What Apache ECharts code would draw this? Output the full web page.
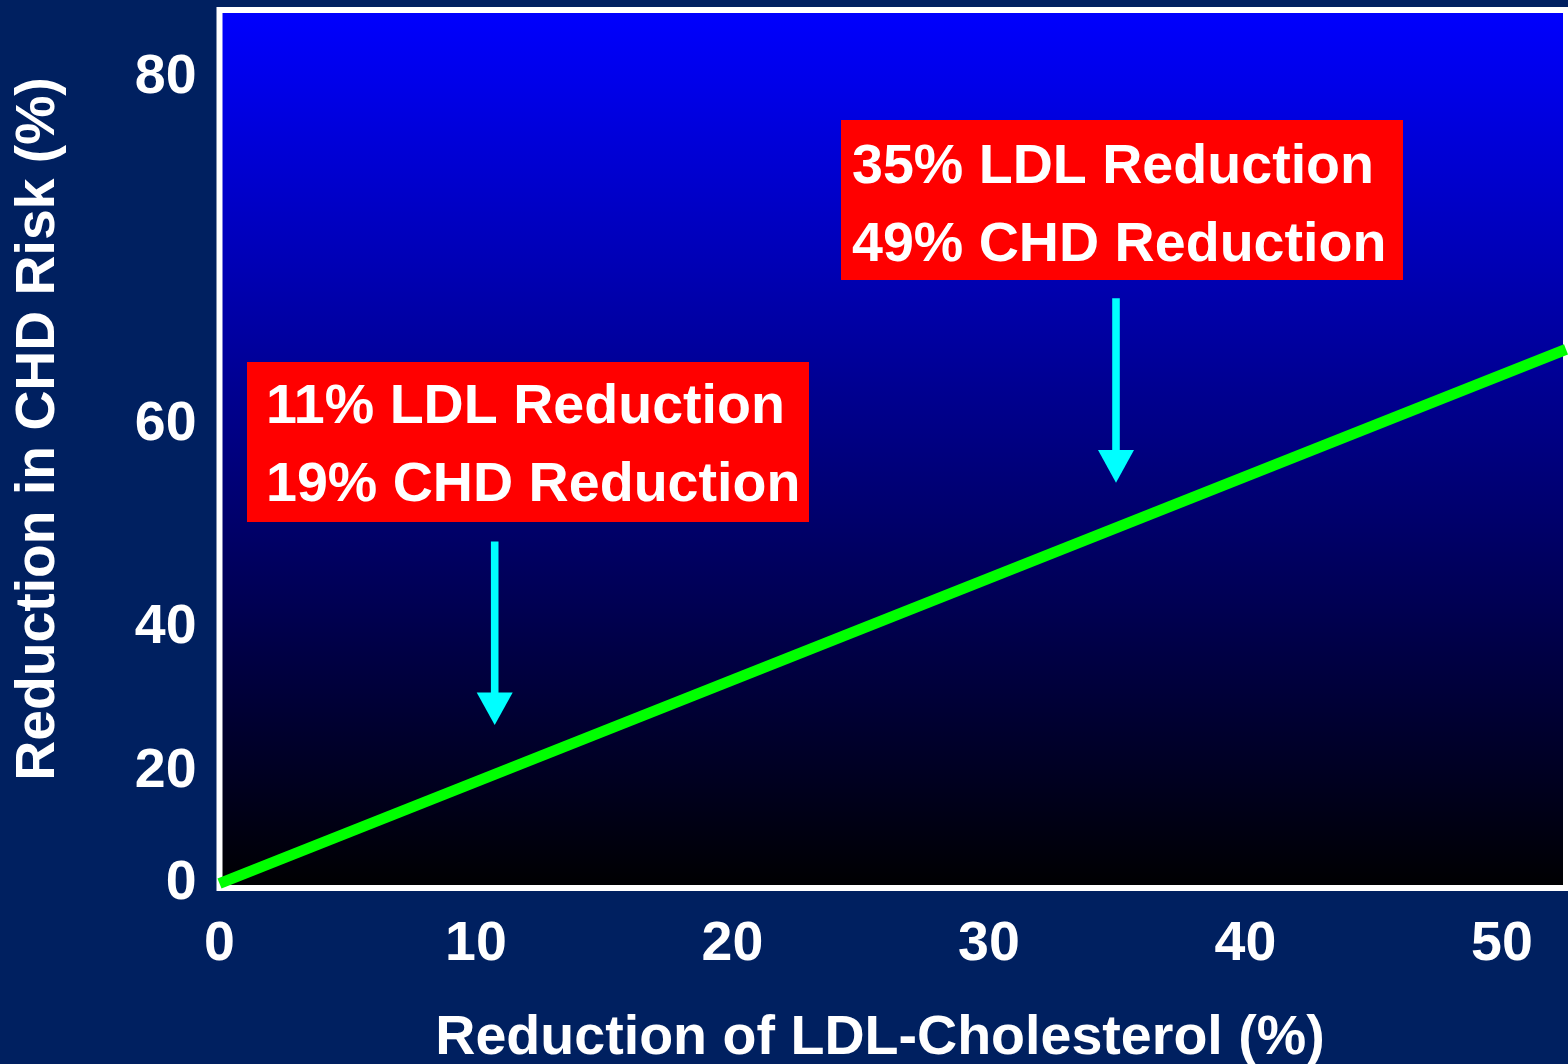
<!DOCTYPE html>
<html><head><meta charset="utf-8">
<script src="https://cdn.jsdelivr.net/npm/echarts@6/dist/echarts.min.js"></script>
<style>html,body{margin:0;padding:0;background:#002060;}#c{width:1568px;height:1064px;}</style>
</head><body><div id="c"></div>
<script>
// Data
const ldlReduction = [0, 52.5];          // % reduction of LDL-cholesterol
const chdReduction = [0, 65.6];          // % reduction in CHD risk
const xTickValues = [0, 10, 20, 30, 40, 50];
const yTickValues = [0, 20, 40, 60, 80];
const boxTextA = ['11% LDL Reduction', '19% CHD Reduction'];
const boxTextB = ['35% LDL Reduction', '49% CHD Reduction'];
const yTitle = 'Reduction in CHD Risk (%)';
const xTitle = 'Reduction of LDL-Cholesterol (%)';

// y axis is proportional to -ln(remaining risk): plotted on a log axis of remaining risk (100 - reduction)
const yTopReduction = 82.54, yBottomReduction = -0.903;
const FONT = "'Liberation Sans', Arial, Helvetica, sans-serif";

const chart = echarts.init(document.getElementById('c'), null, {renderer: 'canvas'});
const seriesData = ldlReduction.map((x, i) => [x, 100 - chdReduction[i]]);

function textStyle(size) { return {fill: '#fff', fontSize: size, fontWeight: 'bold', fontFamily: FONT}; }

function box(x, y, w, h, lines, tx, ty0, dy) {
  return {
    type: 'group', children: [
      {type: 'rect', shape: {x: x, y: y, width: w, height: h}, style: {fill: '#ff0000'}},
      {type: 'text', x: tx, y: ty0, style: Object.assign(textStyle(55.6), {text: lines[0], textAlign: 'left', textVerticalAlign: 'middle'})},
      {type: 'text', x: tx, y: ty0 + dy, style: Object.assign(textStyle(55.6), {text: lines[1], textAlign: 'left', textVerticalAlign: 'middle'})}
    ]
  };
}
function arrow(cx, top, baseY, tipY) {
  return {
    type: 'group', children: [
      {type: 'rect', shape: {x: cx - 3.8, y: top, width: 7.6, height: baseY - top + 1}, style: {fill: '#00ffff'}},
      {type: 'polygon', shape: {points: [[cx - 18, baseY], [cx + 18, baseY], [cx, tipY]]}, style: {fill: '#00ffff'}}
    ]
  };
}

chart.setOption({
  backgroundColor: '#002060',
  animation: false,
  grid: {
    left: 219.5, top: 10, right: 2, bottom: 176,
    show: true, borderColor: '#ffffff', borderWidth: 6,
    backgroundColor: {type: 'linear', x: 0, y: 0, x2: 0, y2: 1,
      colorStops: [{offset: 0, color: '#0000ff'}, {offset: 1, color: '#000000'}]}
  },
  xAxis: {
    type: 'value', min: 0, max: 52.5, interval: 10,
    axisLine: {show: false}, axisTick: {show: false}, splitLine: {show: false},
    axisLabel: {customValues: xTickValues, color: '#fff', fontSize: 55.5, fontWeight: 'bold', fontFamily: FONT,
      margin: 57, verticalAlign: 'middle', showMaxLabel: true, showMinLabel: true}
  },
  yAxis: {
    type: 'log', logBase: 10, inverse: true,
    min: 100 - yTopReduction, max: 100 - yBottomReduction,
    axisLine: {show: false}, axisTick: {show: false}, splitLine: {show: false}, minorSplitLine: {show: false},
    axisLabel: {customValues: yTickValues.map(v => 100 - v), formatter: v => String(Math.round(100 - v)),
      color: '#fff', fontSize: 55.5, fontWeight: 'bold', fontFamily: FONT, margin: 23,
      verticalAlign: 'middle', padding: [6, 0, 0, 0]}
  },
  series: [{
    type: 'line', data: seriesData, symbol: 'none', silent: true,
    lineStyle: {color: '#00ff00', width: 11, cap: 'butt'}
  }],
  graphic: [
    {type: 'text', x: 39, y: 429, rotation: Math.PI / 2,
      style: Object.assign(textStyle(55.3), {text: yTitle, textAlign: 'center', textVerticalAlign: 'middle'})},
    {type: 'text', x: 880, y: 1039,
      style: Object.assign(textStyle(55.6), {text: xTitle, textAlign: 'center', textVerticalAlign: 'middle'})},
    box(247, 362, 562, 160, boxTextA, 266, 408, 78),
    box(841, 120, 562, 160, boxTextB, 852, 168, 78),
    arrow(494.7, 541.5, 692.5, 725),
    arrow(1116, 298.3, 450, 482.7)
  ]
});
</script></body></html>
